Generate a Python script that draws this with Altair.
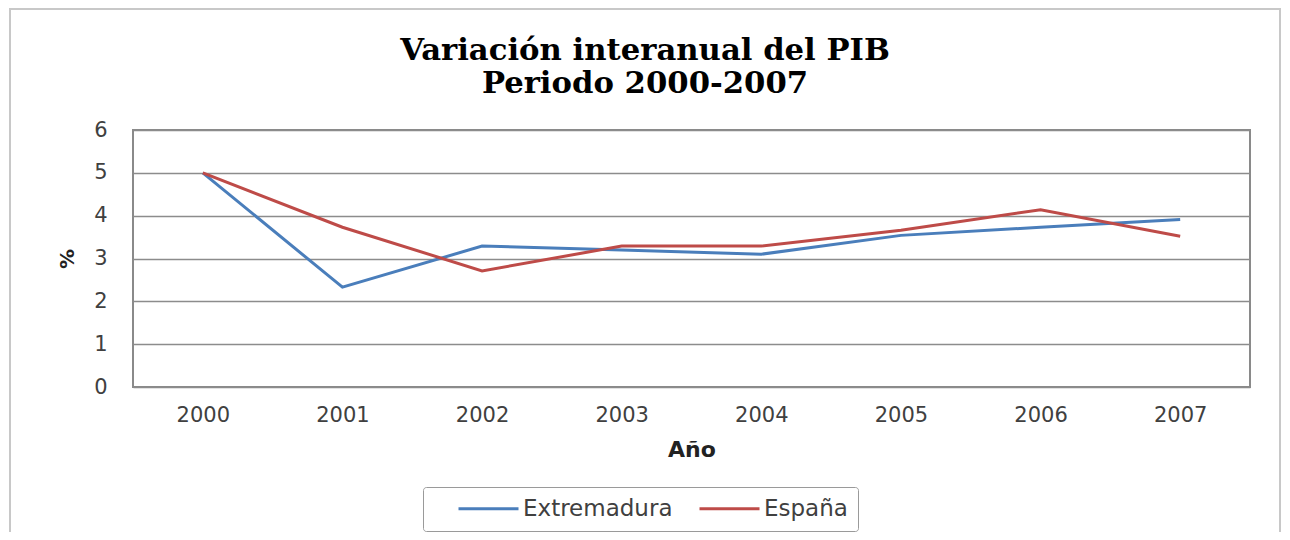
import altair as alt
import pandas as pd

years = ["2000", "2001", "2002", "2003", "2004", "2005", "2006", "2007"]
extremadura = [5.0, 2.33, 3.29, 3.20, 3.10, 3.54, 3.73, 3.91]
espana = [5.0, 3.73, 2.71, 3.29, 3.29, 3.66, 4.14, 3.52]
series = ["Extremadura", "España"]
colors = ["#4A7EBB", "#BE4B48"]
y_ticks = [0, 1, 2, 3, 4, 5, 6]

df = pd.DataFrame({
    "Año": years * 2,
    "valor": extremadura + espana,
    "serie": [series[0]] * len(years) + [series[1]] * len(years),
})

label_font = "DejaVu Sans"
label_color = "#404040"

frame = alt.Chart(alt.Data(values=[{}])).mark_rect(
    fill="transparent", stroke="#c8c8c8", strokeWidth=2
).encode(
    x=alt.value(-123), x2=alt.value(1147), y=alt.value(-121), y2=alt.value(430)
)

lines = alt.Chart(df).mark_line(strokeWidth=3).encode(
    x=alt.X(
        "Año:N",
        sort=years,
        scale=alt.Scale(type="point", padding=0.5),
        axis=alt.Axis(
            title="Año", labelAngle=0, ticks=False, domain=False, grid=False,
            labelFont=label_font, labelFontSize=21, labelColor=label_color,
            labelPadding=17, titleFont=label_font, titleFontSize=22,
            titleFontWeight="bold", titleColor="#222", titlePadding=14,
        ),
    ),
    y=alt.Y(
        "valor:Q",
        scale=alt.Scale(domain=[0, 6]),
        axis=alt.Axis(
            title="%", values=y_ticks, ticks=False, domain=False,
            gridColor="#8c8c8c", gridWidth=1.5,
            labelFont=label_font, labelFontSize=21, labelColor=label_color,
            labelPadding=26, titleFont=label_font, titleFontSize=20,
            titleFontWeight="bold", titleColor="#222", titlePadding=16,
        ),
    ),
    color=alt.Color(
        "serie:N",
        scale=alt.Scale(domain=series, range=colors),
        legend=alt.Legend(
            title=None, orient="none", legendX=290, legendY=357,
            direction="horizontal", symbolType="M-3,0H3", symbolSize=400,
            symbolStrokeWidth=3, labelFont=label_font, labelFontSize=23,
            labelColor=label_color, strokeColor="#9a9a9a", fillColor="white",
            padding=10, columnPadding=1, symbolOffset=44, labelOffset=23,
            cornerRadius=3,
            labelExpr="datum.label == 'España' ? datum.label + '\u00a0\u00a0' : datum.label",
        ),
    ),
)

chart = alt.layer(frame, lines).properties(
    width=1117,
    height=257,
    title=alt.TitleParams(
        text=["Variación interanual del PIB", "Periodo 2000-2007"],
        font="DejaVu Serif", fontSize=30.7, fontWeight="bold", color="black",
        lineHeight=33, anchor="middle", frame="bounds", offset=0, dy=92,
    ),
    autosize=alt.AutoSizeParams(type="none"),
    padding={"left": 125, "top": 122, "right": 32, "bottom": 145},
).configure_view(stroke="#8a8a8a", strokeWidth=2)

chart.save("out.html", embed_options={"renderer": "svg", "actions": False})
